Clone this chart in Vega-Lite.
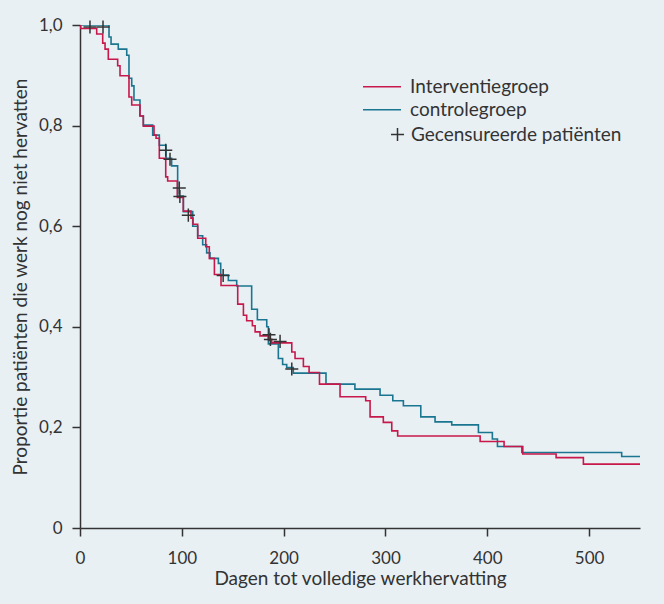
{
  "$schema": "https://vega.github.io/schema/vega-lite/v6.json",
  "width": 560,
  "height": 503,
  "autosize": {"type": "none"},
  "padding": {"left": 80, "top": 25, "right": 24, "bottom": 76},
  "background": "#e8f0f4",
  "config": {
    "view": {"stroke": null},
    "font": "Lato",
    "axis": {
      "domainColor": "#333333", "tickColor": "#333333", "labelColor": "#333333", "titleColor": "#333333",
      "domainWidth": 1.5, "tickWidth": 1.5, "tickSize": 8,
      "labelFont": "Lato", "titleFont": "Lato", "labelFontSize": 17, "titleFontSize": 19,
      "titleFontWeight": "normal", "grid": false
    },
    "legend": {
      "labelFont": "Lato", "labelFontSize": 19, "labelColor": "#333333", "padding": 0, "labelLimit": 400
    }
  },
  "datasets": {
    "km": [
      {"group": "controlegroep", "day": 0, "surv": 1.0},
      {"group": "controlegroep", "day": 28.5, "surv": 0.976},
      {"group": "controlegroep", "day": 30.5, "surv": 0.962},
      {"group": "controlegroep", "day": 37.6, "surv": 0.952},
      {"group": "controlegroep", "day": 45.9, "surv": 0.94},
      {"group": "controlegroep", "day": 48.1, "surv": 0.894},
      {"group": "controlegroep", "day": 50.8, "surv": 0.879},
      {"group": "controlegroep", "day": 53, "surv": 0.851},
      {"group": "controlegroep", "day": 58.9, "surv": 0.819},
      {"group": "controlegroep", "day": 62.2, "surv": 0.801},
      {"group": "controlegroep", "day": 71.4, "surv": 0.781},
      {"group": "controlegroep", "day": 77.9, "surv": 0.761},
      {"group": "controlegroep", "day": 84.5, "surv": 0.735},
      {"group": "controlegroep", "day": 90, "surv": 0.72},
      {"group": "controlegroep", "day": 95.9, "surv": 0.66},
      {"group": "controlegroep", "day": 101.5, "surv": 0.629},
      {"group": "controlegroep", "day": 110.7, "surv": 0.6},
      {"group": "controlegroep", "day": 115.6, "surv": 0.581},
      {"group": "controlegroep", "day": 120.5, "surv": 0.563},
      {"group": "controlegroep", "day": 124.4, "surv": 0.547},
      {"group": "controlegroep", "day": 127.7, "surv": 0.536},
      {"group": "controlegroep", "day": 135.9, "surv": 0.526},
      {"group": "controlegroep", "day": 138.2, "surv": 0.503},
      {"group": "controlegroep", "day": 145.7, "surv": 0.492},
      {"group": "controlegroep", "day": 153.9, "surv": 0.481},
      {"group": "controlegroep", "day": 168.6, "surv": 0.435},
      {"group": "controlegroep", "day": 174.2, "surv": 0.414},
      {"group": "controlegroep", "day": 183.4, "surv": 0.4},
      {"group": "controlegroep", "day": 185, "surv": 0.366},
      {"group": "controlegroep", "day": 194.8, "surv": 0.337},
      {"group": "controlegroep", "day": 199, "surv": 0.325},
      {"group": "controlegroep", "day": 203, "surv": 0.319},
      {"group": "controlegroep", "day": 209.5, "surv": 0.308},
      {"group": "controlegroep", "day": 241.6, "surv": 0.286},
      {"group": "controlegroep", "day": 270, "surv": 0.276},
      {"group": "controlegroep", "day": 294.7, "surv": 0.264},
      {"group": "controlegroep", "day": 307.2, "surv": 0.253},
      {"group": "controlegroep", "day": 317.6, "surv": 0.243},
      {"group": "controlegroep", "day": 334.7, "surv": 0.221},
      {"group": "controlegroep", "day": 348.7, "surv": 0.211},
      {"group": "controlegroep", "day": 365.1, "surv": 0.205},
      {"group": "controlegroep", "day": 391.3, "surv": 0.19},
      {"group": "controlegroep", "day": 405, "surv": 0.177},
      {"group": "controlegroep", "day": 410, "surv": 0.162},
      {"group": "controlegroep", "day": 433.9, "surv": 0.15},
      {"group": "controlegroep", "day": 532, "surv": 0.142},
      {"group": "controlegroep", "day": 550, "surv": 0.142},
      {"group": "Interventiegroep", "day": 0, "surv": 1.0},
      {"group": "Interventiegroep", "day": 0.7, "surv": 0.993},
      {"group": "Interventiegroep", "day": 16.4, "surv": 0.982},
      {"group": "Interventiegroep", "day": 22.3, "surv": 0.964},
      {"group": "Interventiegroep", "day": 24.6, "surv": 0.952},
      {"group": "Interventiegroep", "day": 27.8, "surv": 0.932},
      {"group": "Interventiegroep", "day": 37, "surv": 0.919},
      {"group": "Interventiegroep", "day": 39.3, "surv": 0.899},
      {"group": "Interventiegroep", "day": 48.1, "surv": 0.857},
      {"group": "Interventiegroep", "day": 50.8, "surv": 0.841},
      {"group": "Interventiegroep", "day": 58.9, "surv": 0.819},
      {"group": "Interventiegroep", "day": 62.2, "surv": 0.799},
      {"group": "Interventiegroep", "day": 72.7, "surv": 0.781},
      {"group": "Interventiegroep", "day": 74.7, "surv": 0.775},
      {"group": "Interventiegroep", "day": 77.9, "surv": 0.735},
      {"group": "Interventiegroep", "day": 84.2, "surv": 0.698},
      {"group": "Interventiegroep", "day": 86.1, "surv": 0.69},
      {"group": "Interventiegroep", "day": 95.6, "surv": 0.657},
      {"group": "Interventiegroep", "day": 101.5, "surv": 0.63},
      {"group": "Interventiegroep", "day": 109, "surv": 0.616},
      {"group": "Interventiegroep", "day": 111, "surv": 0.604},
      {"group": "Interventiegroep", "day": 115.6, "surv": 0.576},
      {"group": "Interventiegroep", "day": 123.5, "surv": 0.559},
      {"group": "Interventiegroep", "day": 127, "surv": 0.536},
      {"group": "Interventiegroep", "day": 132, "surv": 0.504},
      {"group": "Interventiegroep", "day": 138.5, "surv": 0.482},
      {"group": "Interventiegroep", "day": 154.9, "surv": 0.445},
      {"group": "Interventiegroep", "day": 160.5, "surv": 0.423},
      {"group": "Interventiegroep", "day": 163.7, "surv": 0.412},
      {"group": "Interventiegroep", "day": 169.3, "surv": 0.402},
      {"group": "Interventiegroep", "day": 172, "surv": 0.39},
      {"group": "Interventiegroep", "day": 176.8, "surv": 0.382},
      {"group": "Interventiegroep", "day": 185, "surv": 0.375},
      {"group": "Interventiegroep", "day": 188.3, "surv": 0.368},
      {"group": "Interventiegroep", "day": 208, "surv": 0.35},
      {"group": "Interventiegroep", "day": 211.2, "surv": 0.337},
      {"group": "Interventiegroep", "day": 219.4, "surv": 0.321},
      {"group": "Interventiegroep", "day": 225, "surv": 0.309},
      {"group": "Interventiegroep", "day": 235.2, "surv": 0.286},
      {"group": "Interventiegroep", "day": 255.4, "surv": 0.261},
      {"group": "Interventiegroep", "day": 280.6, "surv": 0.253},
      {"group": "Interventiegroep", "day": 284.9, "surv": 0.221},
      {"group": "Interventiegroep", "day": 297.9, "surv": 0.21},
      {"group": "Interventiegroep", "day": 306.2, "surv": 0.193},
      {"group": "Interventiegroep", "day": 312, "surv": 0.183},
      {"group": "Interventiegroep", "day": 393, "surv": 0.172},
      {"group": "Interventiegroep", "day": 416.5, "surv": 0.162},
      {"group": "Interventiegroep", "day": 434.9, "surv": 0.147},
      {"group": "Interventiegroep", "day": 467.6, "surv": 0.14},
      {"group": "Interventiegroep", "day": 494.4, "surv": 0.127},
      {"group": "Interventiegroep", "day": 551.8, "surv": 0.127}
    ],
    "cens": [
      {"label": "Gecensureerde patiënten", "day": 9.8, "surv": 0.996},
      {"label": "Gecensureerde patiënten", "day": 22.6, "surv": 0.996},
      {"label": "Gecensureerde patiënten", "day": 84.2, "surv": 0.751},
      {"label": "Gecensureerde patiënten", "day": 88.4, "surv": 0.733},
      {"label": "Gecensureerde patiënten", "day": 97.5, "surv": 0.676},
      {"label": "Gecensureerde patiënten", "day": 98.1, "surv": 0.659},
      {"label": "Gecensureerde patiënten", "day": 106.4, "surv": 0.622},
      {"label": "Gecensureerde patiënten", "day": 140.6, "surv": 0.502},
      {"label": "Gecensureerde patiënten", "day": 185.6, "surv": 0.384},
      {"label": "Gecensureerde patiënten", "day": 187, "surv": 0.375},
      {"label": "Gecensureerde patiënten", "day": 196.5, "surv": 0.371},
      {"label": "Gecensureerde patiënten", "day": 208, "surv": 0.316}
    ]
  },
  "layer": [
    {
      "data": {"name": "km"},
      "mark": {"type": "line", "interpolate": "step-after", "strokeWidth": 1.6, "clip": true},
      "encoding": {
        "x": {
          "field": "day", "type": "quantitative",
          "scale": {"domain": [0, 550], "nice": false},
          "axis": {"values": [0, 100, 200, 300, 400, 500], "title": "Dagen tot volledige werkhervatting", "labelPadding": 14, "titlePadding": 3, "labelFlush": false}
        },
        "y": {
          "field": "surv", "type": "quantitative",
          "scale": {"domain": [0, 1], "nice": false},
          "axis": {"values": [0, 0.2, 0.4, 0.6, 0.8, 1.0], "title": "Proportie patiënten die werk nog niet hervatten", "labelPadding": 10, "titlePadding": 8, "labelFlush": false,
                   "labelExpr": "datum.value == 0 ? '0' : replace(format(datum.value, '.1f'), '.', ',')"}
        },
        "color": {
          "field": "group", "type": "nominal",
          "scale": {"domain": ["Interventiegroep", "controlegroep"], "range": ["#c8174a", "#1a7590"]},
          "legend": {"title": null, "orient": "none", "legendX": 282, "legendY": 50.4, "symbolType": "stroke", "symbolSize": 1444, "symbolStrokeWidth": 1.5, "labelOffset": 8, "rowPadding": 0, "clipHeight": 22.6}
        }
      }
    },
    {
      "data": {"name": "cens"},
      "mark": {"type": "point", "filled": false, "stroke": "#333333", "strokeWidth": 1.5, "size": 170, "opacity": 1},
      "encoding": {
        "x": {"field": "day", "type": "quantitative"},
        "y": {"field": "surv", "type": "quantitative"},
        "shape": {
          "field": "label", "type": "nominal",
          "scale": {"range": ["M-1,0L1,0M0,-1L0,1"]},
          "legend": {"title": null, "orient": "none", "legendX": 308, "legendY": 100, "symbolStrokeColor": "#333333", "symbolSize": 170, "symbolStrokeWidth": 1.5, "labelOffset": 4}
        }
      }
    }
  ]
}
